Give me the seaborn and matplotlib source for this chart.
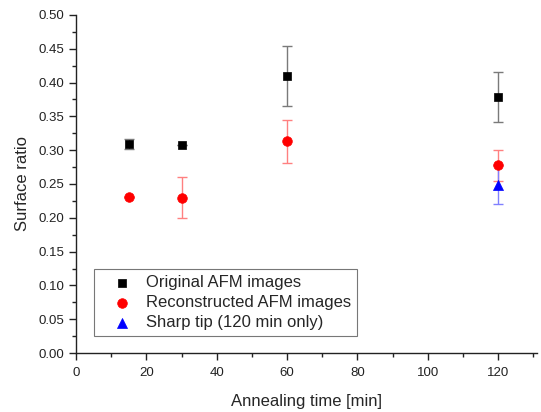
import matplotlib
matplotlib.use("Agg")
import matplotlib.pyplot as plt
from matplotlib.ticker import MultipleLocator, FormatStrFormatter
import seaborn as sns
import pandas as pd

# Surface ratio vs annealing time
orig_time = [15, 30, 60, 120]
orig_ratio = [0.309, 0.307, 0.410, 0.378]
orig_err = [0.007, 0.0, 0.044, 0.037]

recon_time = [15, 30, 60, 120]
recon_ratio = [0.231, 0.230, 0.313, 0.278]
recon_err = [0.0, 0.031, 0.032, 0.023]

tip_time = [120]
tip_ratio = [0.249]
tip_err = [0.029]

labels = ["Original AFM images", "Reconstructed AFM images", "Sharp tip (120 min only)"]

sns.set_style("ticks")
plt.rcParams["font.family"] = ["Liberation Sans", "DejaVu Sans"]

df = pd.concat([
    pd.DataFrame({"time": orig_time, "ratio": orig_ratio, "err": orig_err, "series": labels[0]}),
    pd.DataFrame({"time": recon_time, "ratio": recon_ratio, "err": recon_err, "series": labels[1]}),
    pd.DataFrame({"time": tip_time, "ratio": tip_ratio, "err": tip_err, "series": labels[2]}),
], ignore_index=True)

colors = {labels[0]: "#000000", labels[1]: "#ff0000", labels[2]: "#0000ff"}
err_colors = {labels[0]: "#7a7a7a", labels[1]: "#ff8080", labels[2]: "#8080ff"}
markers = {labels[0]: "s", labels[1]: "o", labels[2]: "^"}
sizes = {labels[0]: 36, labels[1]: 48, labels[2]: 52}

fig = plt.figure(figsize=(5.41, 4.12), dpi=100)
ax = fig.add_axes([0.1405, 0.1432, 0.852, 0.8204])

for lab in labels:
    sub = df[df["series"] == lab]
    ax.errorbar(sub["time"], sub["ratio"], yerr=sub["err"], fmt="none",
                ecolor=err_colors[lab], elinewidth=1.0, capsize=3.5, capthick=1.0, zorder=2)
    sns.scatterplot(data=sub, x="time", y="ratio", ax=ax, color=colors[lab],
                    marker=markers[lab], s=sizes[lab], edgecolor=colors[lab],
                    linewidth=0.5, label=lab, zorder=3)

ax.set_xlim(0, 131)
ax.set_ylim(0, 0.5)
ax.xaxis.set_major_locator(MultipleLocator(20))
ax.xaxis.set_minor_locator(MultipleLocator(10))
ax.yaxis.set_major_locator(MultipleLocator(0.05))
ax.yaxis.set_minor_locator(MultipleLocator(0.025))
ax.yaxis.set_major_formatter(FormatStrFormatter("%.2f"))
ax.tick_params(which="major", direction="out", length=5, width=1, labelsize=9.5, colors="#222222")
ax.tick_params(axis="x", which="major", pad=5)
ax.tick_params(which="minor", direction="out", length=3, width=1, colors="#222222")
for s in ["left", "bottom"]:
    ax.spines[s].set_linewidth(1.0)
    ax.spines[s].set_color("#222222")
sns.despine(ax=ax)

ax.set_xlabel("Annealing time [min]", fontsize=12, labelpad=11)
ax.set_ylabel("Surface ratio", fontsize=12, labelpad=6)

leg = ax.legend(loc="lower left", bbox_to_anchor=(0.039, 0.05), borderaxespad=0,
                fontsize=12, frameon=True, fancybox=False, labelspacing=0.3,
                handletextpad=0.1, borderpad=0.35, handlelength=2.7)
leg.get_frame().set_edgecolor("#555555")
leg.get_frame().set_linewidth(0.8)

fig.savefig("out.png", dpi=100, facecolor="white")
